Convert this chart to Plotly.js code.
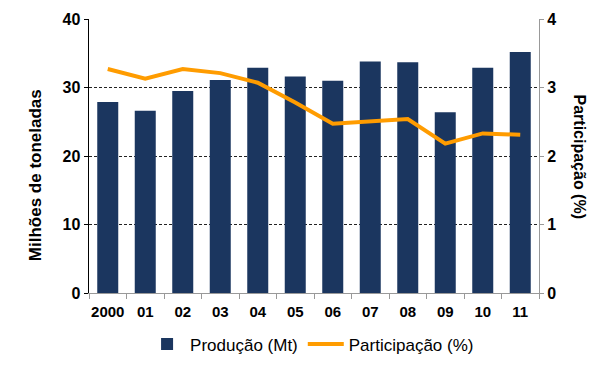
<!DOCTYPE html>
<html><head><meta charset="utf-8">
<script src="https://cdn.plot.ly/plotly-3.0.1.min.js"></script>
<style>body{margin:0;background:#fff}#c{width:605px;height:366px}</style>
</head><body><div id="c"></div>
<script>
const categories = ["2000","01","02","03","04","05","06","07","08","09","10","11"];
const producao = [27.9, 26.6, 29.5, 31.1, 32.9, 31.6, 31.0, 33.8, 33.7, 26.4, 32.9, 35.2];
const participacao = [3.27, 3.13, 3.27, 3.21, 3.07, 2.78, 2.47, 2.50, 2.54, 2.18, 2.33, 2.31];
const leftTicks = [0, 10, 20, 30, 40];
const rightTicks = [0, 1, 2, 3, 4];

const fam = "Liberation Sans, Arial, sans-serif";
const data = [
  {type: "bar", x: categories, y: producao, name: "Produção (Mt)",
   marker: {color: "#1B365F"}, yaxis: "y"},
  {type: "scatter", mode: "lines", x: categories, y: participacao, name: "Participação (%)",
   line: {color: "#FF9C00", width: 4}, yaxis: "y2"}
];
const layout = {
  width: 605, height: 366,
  margin: {l: 89, r: 66, t: 19, b: 73, autoexpand: false},
  paper_bgcolor: "#fff", plot_bgcolor: "#fff",
  font: {family: fam, size: 14, color: "#000"},
  bargap: 0.44,
  showlegend: true,
  legend: {orientation: "h", x: 0.515, xanchor: "center", xref: "container",
           y: 0.01, yanchor: "bottom", yref: "container", itemwidth: 36,
           font: {family: fam, size: 17, color: "#000"}, traceorder: "normal"},
  xaxis: {type: "category", showline: true, linecolor: "#999", linewidth: 1,
          ticks: "outside", tickson: "boundaries", ticklen: 5, tickcolor: "#999",
          tickangle: 0, automargin: false, ticklabelstandoff: 5,
          tickfont: {family: fam, size: 15, color: "#000", weight: "bold"},
          showgrid: false, zeroline: false},
  yaxis: {range: [0, 40], tickvals: leftTicks, showline: true, linecolor: "#000", linewidth: 1.5,
          ticks: "outside", ticklen: 4, tickcolor: "#000", automargin: false,
          tickfont: {family: fam, size: 16, color: "#000", weight: "bold"},
          showgrid: true, gridcolor: "#222", griddash: "3px,2px", gridwidth: 1, zeroline: false},
  yaxis2: {range: [0, 4], tickvals: rightTicks, overlaying: "y", side: "right",
           showline: true, linecolor: "#999", linewidth: 1, ticks: "outside", ticklen: 4, tickcolor: "#999",
           automargin: false,
           tickfont: {family: fam, size: 16, color: "#000", weight: "bold"},
           showgrid: false, zeroline: false},
  annotations: [
    {text: "<b>Milhões de toneladas</b>", textangle: -90, xref: "paper", yref: "paper",
     x: -0.12, y: 0.43, xanchor: "center", yanchor: "middle", showarrow: false,
     font: {family: fam, size: 17, color: "#000"}},
    {text: "<b>Participação (%)</b>", textangle: 90, xref: "paper", yref: "paper",
     x: 1.09, y: 0.5, xanchor: "center", yanchor: "middle", showarrow: false,
     font: {family: fam, size: 16, color: "#000"}}
  ]
};
Plotly.newPlot("c", data, layout, {displayModeBar: false, staticPlot: true});
</script></body></html>
